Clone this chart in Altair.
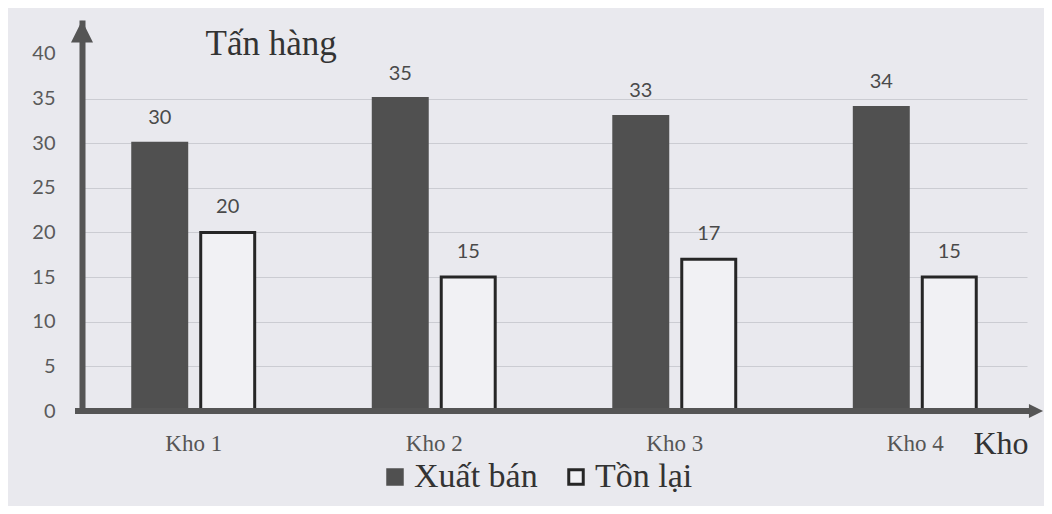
import altair as alt
import pandas as pd

categories = ["Kho 1", "Kho 2", "Kho 3", "Kho 4"]
series = ["Xuất bán", "Tồn lại"]
xuat_ban = [30, 35, 33, 34]
ton_lai = [20, 15, 17, 15]
y_ticks = [0, 5, 10, 15, 20, 25, 30, 35, 40]

rows = []
for c, a, b in zip(categories, xuat_ban, ton_lai):
    rows.append({"kho": c, "loai": series[0], "tan": a})
    rows.append({"kho": c, "loai": series[1], "tan": b})
df = pd.DataFrame(rows)

BG = "#e9e9ee"
AXC = "#555555"
SERIF = "Liberation Serif"
SANS = "Lato"

x_enc = alt.X(
    "kho:N",
    sort=categories,
    scale=alt.Scale(paddingInner=0.493, paddingOuter=0.211),
    axis=alt.Axis(
        title="Kho", domain=False, ticks=False, tickSize=0, labelAngle=0,
        labelFont=SERIF, labelFontSize=23, labelColor="#555555",
        labelPadding=21, labelBaseline="top",
        titleFont=SERIF, titleFontSize=32, titleFontWeight="normal",
        titleColor="#333333", titleAngle=0, titleAlign="left",
        titleBaseline="alphabetic", titleX=891, titleY=42,
    ),
)
y_enc = alt.Y(
    "tan:Q",
    scale=alt.Scale(domain=[0, 43.8], nice=False),
    axis=alt.Axis(
        values=y_ticks, title="Tấn hàng", ticks=False, tickSize=0,
        labelFont=SANS, labelFontSize=20, labelColor="#5a5a5a", labelPadding=27,
        domain=True, domainWidth=6, domainColor=AXC,
        grid=True, gridColor="#cbccd2", gridWidth=1,
        gridOpacity={"condition": {"test": "datum.value >= 40", "value": 0}, "value": 1},
        titleFont=SERIF, titleFontSize=35, titleFontWeight="normal",
        titleColor="#333333", titleAngle=0, titleAlign="left",
        titleBaseline="alphabetic", titleX=123, titleY=34,
    ),
)
xoff = alt.XOffset("loai:N", sort=series, scale=alt.Scale(paddingInner=0.206, paddingOuter=0))

bars = alt.Chart(df).mark_bar(strokeWidth=3).encode(
    x=x_enc,
    y=y_enc,
    xOffset=xoff,
    fill=alt.Fill("loai:N", sort=series,
                  scale=alt.Scale(domain=series, range=["#505050", "#f1f1f4"]),
                  legend=alt.Legend(title=None)),
    stroke=alt.Stroke("loai:N", sort=series,
                      scale=alt.Scale(domain=series, range=["#505050", "#262626"]),
                      legend=alt.Legend(title=None)),
)

labels = alt.Chart(df).mark_text(
    baseline="alphabetic", dy=-19, font=SANS, fontSize=20, color="#4a4a4a"
).encode(
    x=alt.X("kho:N", sort=categories),
    y=alt.Y("tan:Q"),
    xOffset=alt.XOffset("loai:N", sort=series),
    text=alt.Text("tan:Q"),
)

one = alt.Data(values=[{}])
x_line = alt.Chart(one).mark_rule(color=AXC, strokeWidth=6).encode(
    x=alt.value(-7), x2=alt.value(950), y=alt.datum(0)
)
x_arrow = alt.Chart(one).mark_point(
    shape="M -1 -1 L 1 0 L -1 1 Z", filled=True, fill=AXC, strokeWidth=0,
    size=200, opacity=1
).encode(x=alt.value(954), y=alt.datum(0))
y_arrow = alt.Chart(one).mark_point(
    shape="M -1 1 L 0 -1 L 1 1 Z", filled=True, fill=AXC, strokeWidth=0,
    size=484, opacity=1
).encode(x=alt.value(0), y=alt.value(11.5))

chart = alt.layer(bars, labels, x_line, x_arrow, y_arrow).properties(
    width=945,
    height=391,
    padding={"left": 74, "top": 12, "right": 17, "bottom": 95},
    autosize=alt.AutoSizeParams(type="none"),
    background=BG,
).configure_view(stroke=None).configure_legend(
    orient="none", legendX=296, legendY=440, direction="horizontal",
    symbolType="square", symbolSize=210, symbolStrokeWidth=3,
    labelFont=SERIF, labelFontSize=34, labelColor="#333333",
    labelOffset=2, columnPadding=21, padding=0, symbolOpacity=1,
)

chart.save("out.html", embed_options={"renderer": "svg", "actions": False})
